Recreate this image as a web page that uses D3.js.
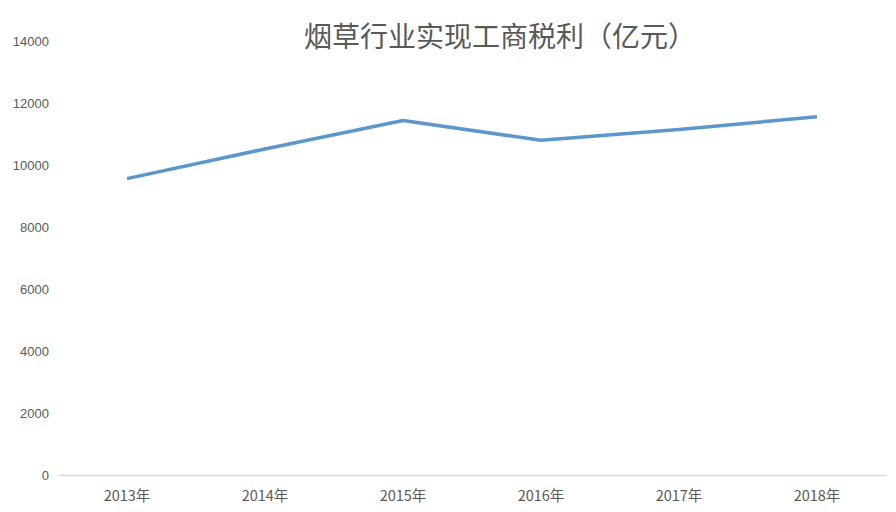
<!DOCTYPE html>
<html><head><meta charset="utf-8">
<script src="https://cdn.jsdelivr.net/npm/d3@7"></script>
<style>body{margin:0;background:#fff}svg{display:block}</style>
</head><body>
<script>
const categories = ["2013年","2014年","2015年","2016年","2017年","2018年"];
const values = [9560, 10517, 11436, 10795, 11145, 11556];
const yTicks = [0,2000,4000,6000,8000,10000,12000,14000];
const title = "烟草行业实现工商税利（亿元）";

const W=896,H=512;
const svg=d3.select("body").append("svg").attr("width",W).attr("height",H);
const font="'Noto Sans CJK SC','Liberation Sans',sans-serif";
const x=d3.scaleBand().domain(categories).range([58,886]);
const y=d3.scaleLinear().domain([0,14000]).range([475,41]);

const ya=svg.append("g").attr("transform","translate(49,0)")
  .call(d3.axisLeft(y).tickValues(yTicks).tickSize(0).tickPadding(0).tickFormat(d3.format("d")));
ya.select(".domain").remove();
ya.selectAll("text").attr("font-family","'Liberation Sans',sans-serif").attr("font-size",13).attr("fill","#595959");

const xa=svg.append("g").attr("transform","translate(0,475)")
  .call(d3.axisBottom(x).tickSize(0).tickPadding(16));
xa.select(".domain").attr("stroke","#d9d9d9").attr("stroke-width",1.5);
xa.selectAll("text").attr("font-family",font).attr("font-size",14.5).attr("fill","#595959");

const line=d3.line().x((d,i)=>x(categories[i])+x.bandwidth()/2).y(d=>y(d));
svg.append("path").datum(values).attr("d",line).attr("fill","none")
  .attr("stroke","#5b97cc").attr("stroke-width",3.5).attr("stroke-linejoin","round");

svg.append("text").attr("x",500).attr("y",47).attr("text-anchor","middle")
  .attr("font-family",font).attr("font-size",28).attr("fill","#595959").text(title);
</script>
</body></html>
